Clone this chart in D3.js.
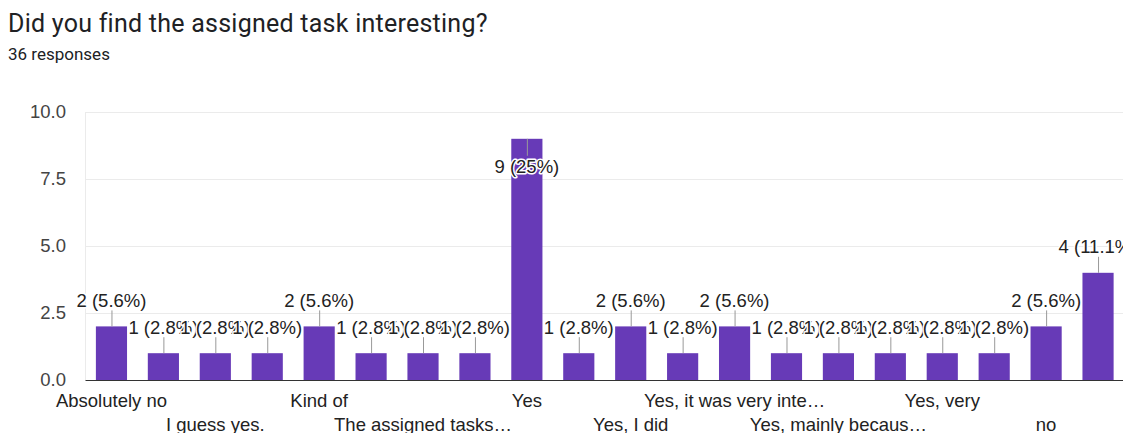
<!DOCTYPE html>
<html><head><meta charset="utf-8">
<script src="https://cdn.jsdelivr.net/npm/d3@7"></script>
<style>
html,body{margin:0;padding:0;background:#fff;}
svg{display:block;}
</style></head>
<body>
<svg id="chart" width="1123" height="433"></svg>
<script>
const title = "Did you find the assigned task interesting?";
const subtitle = "36 responses";
const categories = [
  "Absolutely no", "Absolutely not", "I guess yes.", "I guess", "Kind of", "Not really",
  "The assigned tasks…", "Somewhat", "Yes", "Yes it was", "Yes, I did", "Yes, I found it",
  "Yes, it was very inte…", "Yes, it was", "Yes, mainly becaus…", "Yes, quite", "Yes, very",
  "Yes, very much", "no", "yes"
];
const values = [2, 1, 1, 1, 2, 1, 1, 1, 9, 1, 2, 1, 2, 1, 1, 1, 1, 1, 2, 4];
const totalResponses = 36;
const yTicks = [0, 2.5, 5, 7.5, 10];

const svg = d3.select("#chart");
const M = {left: 85.5, right: 1124, top: 112, bottom: 380};

const x = d3.scaleBand().domain(d3.range(categories.length))
  .range([M.left, M.right]).paddingInner(0.4).paddingOuter(0.2);
const y = d3.scaleLinear().domain([0, 10]).range([M.bottom, M.top]);

svg.append("text").attr("x", 8).attr("y", 32)
  .attr("font-family", "Roboto, 'Open Sans', sans-serif").attr("font-size", 25)
  .attr("letter-spacing", 0.25)
  .attr("fill", "#202124").text(title);
svg.append("text").attr("x", 8).attr("y", 60)
  .attr("font-family", "Roboto, sans-serif").attr("font-size", 17)
  .attr("fill", "#202124").text(subtitle);

const font = "'Liberation Sans', Arial, sans-serif";

// gridlines
svg.append("g").selectAll("line").data(yTicks.filter(d => d > 0)).join("line")
  .attr("x1", M.left).attr("x2", 1123)
  .attr("y1", d => Math.round(y(d)) + 0.5).attr("y2", d => Math.round(y(d)) + 0.5)
  .attr("stroke", "#ebebeb").attr("stroke-width", 1);
svg.append("line").attr("x1", M.left).attr("x2", M.left)
  .attr("y1", y(10)).attr("y2", y(0)).attr("stroke", "#ebebeb");

// y tick labels
svg.append("g").selectAll("text").data(yTicks).join("text")
  .attr("x", 66).attr("y", d => y(d)).attr("dy", "0.35em")
  .attr("text-anchor", "end").attr("font-family", font).attr("font-size", 18.5)
  .attr("fill", "#444").text(d => d3.format(".1f")(d));

// bars
svg.append("g").selectAll("rect").data(values).join("rect")
  .attr("x", (d, i) => x(i)).attr("width", x.bandwidth())
  .attr("y", d => y(d)).attr("height", d => y(0) - y(d))
  .attr("fill", "#673ab7");

// baseline
svg.append("line").attr("x1", M.left).attr("x2", 1123)
  .attr("y1", y(0) + 0.5).attr("y2", y(0) + 0.5).attr("stroke", "#333").attr("stroke-width", 1);

// annotations
const pct = v => +(v / totalResponses * 100).toFixed(1);
const ann = svg.append("g");
values.forEach((v, i) => {
  const cx = x(i) + x.bandwidth() / 2;
  const top = y(v);
  const inside = v >= 9;
  const ly1 = top, ly2 = inside ? top + 17 : top - 16;
  const ty = inside ? top + 28 : top - 26;
  ann.append("line").attr("x1", cx + 0.5).attr("x2", cx + 0.5)
    .attr("y1", ly1).attr("y2", ly2).attr("stroke", "#999").attr("stroke-width", 1);
  ann.append("text").attr("x", cx).attr("y", ty).attr("dy", "0.35em")
    .attr("text-anchor", "middle").attr("font-family", font).attr("font-size", 18.5)
    .attr("fill", "#222").attr("stroke", "#fff").attr("stroke-width", 3)
    .attr("paint-order", "stroke").attr("stroke-linejoin", "round")
    .text(`${v} (${pct(v)}%)`);
});

// x labels: every other, alternating rows
svg.append("g").selectAll("text").data(categories.map((c, i) => ({c, i})).filter(d => d.i % 2 === 0))
  .join("text")
  .attr("x", d => x(d.i) + x.bandwidth() / 2)
  .attr("y", d => (d.i / 2) % 2 === 0 ? 401 : 425).attr("dy", "0.35em")
  .attr("text-anchor", "middle").attr("font-family", font).attr("font-size", 18.5)
  .attr("fill", "#222").text(d => d.c);
</script>
</body></html>
